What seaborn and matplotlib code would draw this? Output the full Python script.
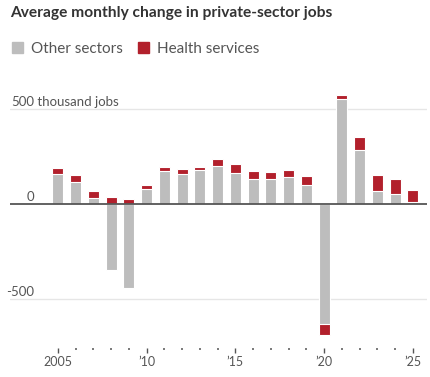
import numpy as np
import pandas as pd
import matplotlib.pyplot as plt
import matplotlib.transforms as mtransforms
from matplotlib.patches import Rectangle
import seaborn as sns

# Data (thousands of jobs, average monthly change)
years = list(range(2005, 2026))
other = [160, 117, 30, -345, -440, 78, 175, 156, 180, 200, 165, 134, 134, 140, 100,
         -630, 555, 285, 68, 52, 12]
health = [32, 38, 36, 37, 27, 22, 22, 28, 17, 38, 45, 40, 33, 40, 46,
          -60, 18, 70, 85, 78, 63]
tick_years = [2005, 2010, 2015, 2020, 2025]
tick_labels = ['2005', '\u201910', '\u201915', '\u201920', '\u201925']

df = pd.DataFrame({'year': years, 'other': other, 'health': health})
# red segment stacks on the gray one when both have the same sign
df['health_end'] = np.where(np.sign(df['other']) == np.sign(df['health']),
                            df['other'] + df['health'], df['health'])

GRAY = '#bdbdbd'
RED = '#b2202c'
TEXT = '#555555'

sns.set_style('white')
plt.rcParams['font.family'] = ['Lato', 'DejaVu Sans']

fig = plt.figure(figsize=(4.3, 3.77), dpi=100)
ax = fig.add_axes([10 / 430, 29 / 377, 417 / 430, 258 / 377])

sns.barplot(data=df, x='year', y='health_end', native_scale=True, width=0.62,
            color=RED, saturation=1, errorbar=None, edgecolor='white',
            linewidth=0.8, ax=ax, zorder=2)
sns.barplot(data=df, x='year', y='other', native_scale=True, width=0.62,
            color=GRAY, saturation=1, errorbar=None, edgecolor='white',
            linewidth=0.8, ax=ax, zorder=3)

ax.set_xlim(2002.3, 2025.8)
ax.set_ylim(-758, 600)

ax.axhline(0, color='#555555', lw=1.3, zorder=5)
for v in (500, -500):
    ax.axhline(v, color='#e6e6e6', lw=1, zorder=0)

for s in ax.spines.values():
    s.set_visible(False)

ax.set_xticks(tick_years, tick_labels)
ax.set_xticks([y for y in years if y not in tick_years], minor=True)
ax.tick_params(axis='x', which='major', bottom=True, length=3.8, width=1,
               color='#555555', labelsize=9, labelcolor=TEXT, pad=2)
ax.tick_params(axis='x', which='minor', bottom=True, length=1.4, width=1.1,
               color='#555555')
ax.set_yticks([])
ax.set_xlabel('')
ax.set_ylabel('')

# y labels sitting above their lines
trans = mtransforms.blended_transform_factory(ax.transAxes, ax.transData)
xr = (34 - 10) / 417
for v, lab in [(500, '500'), (0, '0'), (-500, '-500')]:
    ax.annotate(lab, xy=(xr, v), xycoords=trans, xytext=(0, 2.5),
                textcoords='offset points', ha='right', va='baseline',
                fontsize=9.5, color=TEXT)
ax.annotate(' thousand jobs', xy=(xr, 500), xycoords=trans, xytext=(0, 2.5),
            textcoords='offset points', ha='left', va='baseline',
            fontsize=9.5, color=TEXT)

# title and legend
fig.text(10 / 430, 1 - 17 / 377, 'Average monthly change in private-sector jobs',
         fontsize=11.2, fontweight='bold', color='#333333', va='baseline')
leg_y = 1 - 53 / 377
for x0, col, lab in [(12, GRAY, 'Other sectors'), (138, RED, 'Health services')]:
    fig.patches.append(Rectangle((x0 / 430, leg_y), 11 / 430, 11 / 377,
                                 transform=fig.transFigure, color=col))
    fig.text((x0 + 19) / 430, leg_y, lab, fontsize=11, color=TEXT, va='baseline')

fig.savefig('out.png', dpi=100)
